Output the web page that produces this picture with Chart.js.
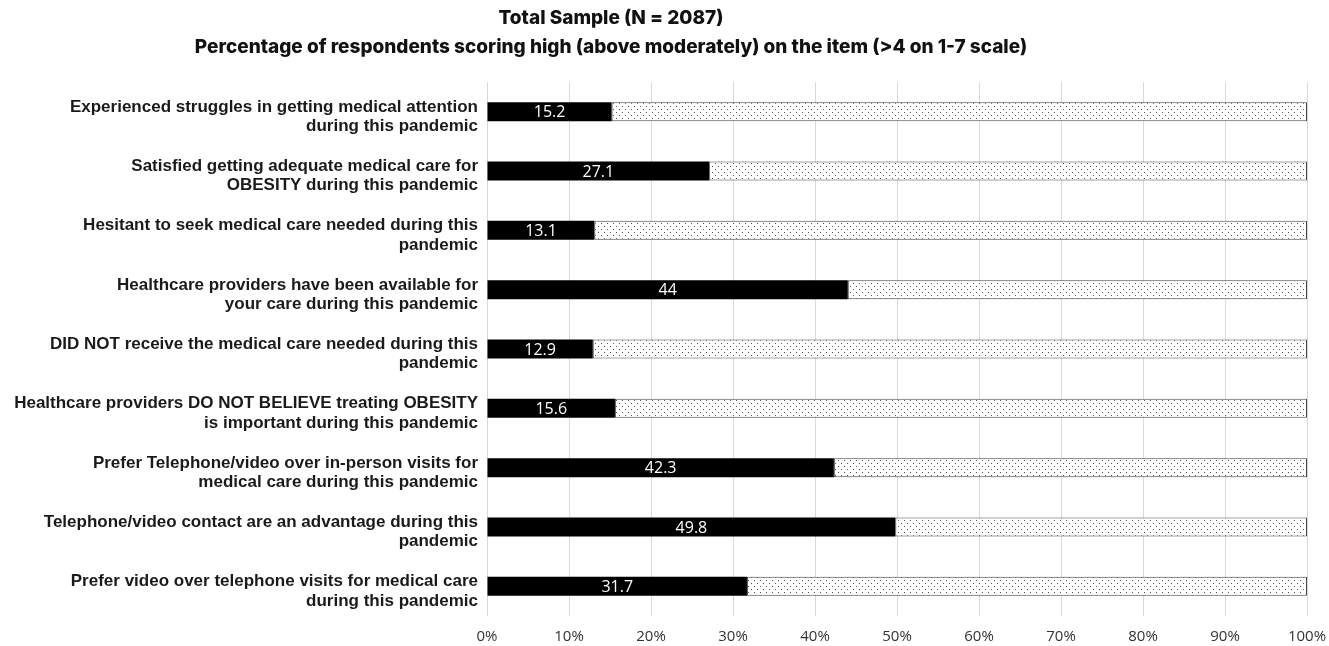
<!DOCTYPE html>
<html>
<head>
<meta charset="utf-8">
<script src="https://cdn.jsdelivr.net/npm/chart.js@4.4.1/dist/chart.umd.min.js"></script>
<style>
  html, body { margin: 0; padding: 0; background: #fff; }
  #wrap { width: 1329px; height: 646px; }
</style>
</head>
<body>
<div id="wrap"><canvas id="surveyChart"></canvas></div>
<script>
// Survey items (two-line labels) and share scoring high
const items = [
  ['Experienced struggles in getting medical attention', 'during this pandemic'],
  ['Satisfied getting adequate medical care for', 'OBESITY during this pandemic'],
  ['Hesitant to seek medical care needed during this', 'pandemic'],
  ['Healthcare providers have been available for', 'your care during this pandemic'],
  ['DID NOT receive the medical care needed during this', 'pandemic'],
  ['Healthcare providers DO NOT BELIEVE treating OBESITY', 'is important during this pandemic'],
  ['Prefer Telephone/video over in-person visits for', 'medical care during this pandemic'],
  ['Telephone/video contact are an advantage during this', 'pandemic'],
  ['Prefer video over telephone visits for medical care', 'during this pandemic']
];
const highPct = [15.2, 27.1, 13.1, 44, 12.9, 15.6, 42.3, 49.8, 31.7];
const restPct = highPct.map(v => +(100 - v).toFixed(1));
const xTicks = [0, 10, 20, 30, 40, 50, 60, 70, 80, 90, 100];
const titleLines = [
  'Total Sample (N = 2087)',
  'Percentage of respondents scoring high (above moderately) on the item (>4 on 1-7 scale)'
];

// dotted fill for the remainder bars
function dotPattern() {
  const c = document.createElement('canvas');
  c.width = 6; c.height = 6;
  const g = c.getContext('2d');
  g.fillStyle = '#fff';
  g.fillRect(0, 0, 6, 6);
  g.fillStyle = '#555';
  g.fillRect(1, 1, 1, 1);
  g.fillRect(4, 4, 1, 1);
  return g.createPattern(c, 'repeat');
}

// white value text inside the black bars
const valueLabels = {
  id: 'valueLabels',
  afterDatasetsDraw(chart) {
    const ctx = chart.ctx;
    const meta = chart.getDatasetMeta(0);
    ctx.save();
    ctx.font = '16px "Open Sans"';
    ctx.fillStyle = '#fff';
    ctx.textAlign = 'center';
    ctx.textBaseline = 'middle';
    meta.data.forEach((bar, i) => {
      ctx.fillText(String(highPct[i]), (bar.x + bar.base) / 2, bar.y + 1);
    });
    ctx.restore();
  }
};

// two-line heading, centred a little left of the canvas middle
const heading = {
  id: 'heading',
  afterDraw(chart) {
    const ctx = chart.ctx;
    ctx.save();
    ctx.font = '800 19px Inter';
    ctx.fillStyle = '#111';
    ctx.textAlign = 'center';
    ctx.textBaseline = 'middle';
    ctx.fillText(titleLines[0], 611, 18);
    ctx.fillText(titleLines[1], 611, 47);
    ctx.restore();
  }
};

const ctx = document.getElementById('surveyChart').getContext('2d');
new Chart(ctx, {
  type: 'bar',
  data: {
    labels: items,
    datasets: [
      {
        label: 'High',
        data: highPct,
        backgroundColor: '#000',
        borderWidth: 0,
        barPercentage: 0.64,
        categoryPercentage: 0.5
      },
      {
        label: 'Other',
        data: restPct,
        backgroundColor: dotPattern(),
        borderColor: '#444',
        borderWidth: 1,
        borderSkipped: false,
        barPercentage: 0.64,
        categoryPercentage: 0.5
      }
    ]
  },
  options: {
    indexAxis: 'y',
    responsive: true,
    maintainAspectRatio: false,
    animation: false,
    layout: { padding: { left: 0, right: 0, top: 82, bottom: 0 } },
    plugins: {
      legend: { display: false },
      tooltip: { enabled: false },
      title: { display: false }
    },
    scales: {
      x: {
        stacked: true,
        min: 0,
        max: 100,
        afterBuildTicks: axis => { axis.ticks = xTicks.map(v => ({ value: v })); },
        afterFit: axis => { axis.height = 30; axis.paddingRight = 22; },
        ticks: {
          callback: v => v + '%',
          color: '#333',
          font: { family: 'Open Sans', size: 15 },
          padding: 12
        },
        grid: { color: '#d9d9d9', drawTicks: false },
        border: { display: false }
      },
      y: {
        stacked: true,
        afterFit: axis => { axis.width = 487; },
        ticks: {
          color: '#1a1a1a',
          font: { family: 'Liberation Sans', size: 17, weight: 'bold', lineHeight: 1.15 },
          padding: 1,
          labelOffset: 5
        },
        grid: { display: false },
        border: { display: false }
      }
    }
  },
  plugins: [valueLabels, heading]
});
</script>
</body>
</html>
